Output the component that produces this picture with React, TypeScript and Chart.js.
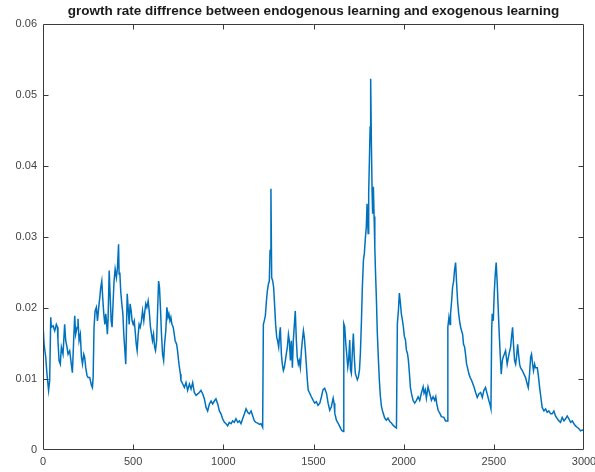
import React, { useEffect, useRef } from "react";
import { Chart, registerables } from "chart.js";

Chart.register(...registerables);

const chartTitle = "growth rate diffrence between endogenous learning and exogenous learning";
const xTickValues = [0, 500, 1000, 1500, 2000, 2500, 3000];
const yTickValues = [0, 0.01, 0.02, 0.03, 0.04, 0.05, 0.06];

// [step, growth-rate difference]
const segmentEarly: [number, number][] = [
  [0, 0.0177], [6, 0.0149], [15, 0.0131], [22, 0.0107], [31, 0.0084], [37, 0.0098], [43, 0.0187], [46, 0.0173],
  [56, 0.0175], [65, 0.0168], [74, 0.0177], [80, 0.0173], [83, 0.0154], [89, 0.0126], [96, 0.0121], [102, 0.0145],
  [111, 0.0135], [120, 0.0177], [126, 0.0154], [133, 0.0145], [139, 0.0135], [148, 0.014], [157, 0.0121], [163, 0.0109],
  [170, 0.0154], [176, 0.0189], [181, 0.0163], [189, 0.0173], [194, 0.0185], [200, 0.0154], [207, 0.0163], [213, 0.0131],
  [219, 0.0121], [226, 0.0135], [231, 0.0131], [237, 0.0116], [244, 0.0105], [250, 0.0102], [259, 0.0102], [269, 0.0091],
  [274, 0.0088], [278, 0.0102], [283, 0.0173], [289, 0.0196], [296, 0.0201], [302, 0.0182], [309, 0.0201], [315, 0.0215],
  [320, 0.0229], [326, 0.0238], [331, 0.0215], [337, 0.0192], [343, 0.0177], [348, 0.0192], [352, 0.0182], [357, 0.0163],
  [361, 0.0185], [367, 0.0253], [372, 0.022], [378, 0.0182], [383, 0.0173], [389, 0.021], [394, 0.0238], [400, 0.0255],
  [407, 0.0243], [413, 0.0257], [419, 0.029], [422, 0.0248], [426, 0.025], [431, 0.0224], [437, 0.0206], [443, 0.0192],
  [448, 0.0163], [454, 0.014], [459, 0.0121], [463, 0.0173], [467, 0.022], [472, 0.0201], [478, 0.0177], [483, 0.0206],
  [489, 0.0196], [494, 0.0182], [500, 0.0177], [506, 0.0182], [511, 0.0168], [517, 0.0149], [522, 0.014], [528, 0.0163],
  [533, 0.0177], [539, 0.0173], [546, 0.0182], [552, 0.0196], [559, 0.0182], [565, 0.0196], [570, 0.0206], [576, 0.0201],
  [583, 0.021], [589, 0.0196], [596, 0.0173], [602, 0.0163], [607, 0.0154], [613, 0.0163], [619, 0.0145], [624, 0.014],
  [630, 0.0154], [635, 0.0192], [641, 0.0238], [646, 0.0229], [652, 0.0196], [657, 0.0163], [663, 0.0135], [669, 0.0126],
  [674, 0.0149], [681, 0.0168], [687, 0.0201], [693, 0.0187], [698, 0.0192], [704, 0.0182], [709, 0.0187], [715, 0.0177],
  [722, 0.0173], [728, 0.0163], [733, 0.0154], [741, 0.0149], [746, 0.014], [754, 0.0121],
];

const segmentMiddle: [number, number][] = [
  [762, 0.0107], [765, 0.0098], [775, 0.0093], [784, 0.0088], [793, 0.0095], [802, 0.0084], [812, 0.0093], [821, 0.0086],
  [830, 0.0095], [839, 0.0081], [849, 0.0077], [858, 0.0079], [867, 0.0081], [876, 0.0084], [886, 0.0079], [895, 0.0072],
  [904, 0.006], [913, 0.0055], [923, 0.0065], [932, 0.0069], [941, 0.0065], [950, 0.0069], [959, 0.0072], [969, 0.0065],
  [978, 0.0055], [987, 0.0051], [996, 0.0044], [1006, 0.0039], [1015, 0.0037], [1024, 0.0034], [1033, 0.0039], [1043, 0.0037],
  [1052, 0.0041], [1061, 0.0039], [1070, 0.0044], [1080, 0.0039], [1089, 0.0041], [1098, 0.0037], [1107, 0.0044], [1117, 0.0051],
  [1126, 0.0058], [1135, 0.0053], [1144, 0.0051], [1154, 0.0055], [1163, 0.0048], [1172, 0.0041], [1181, 0.0039], [1190, 0.0038],
  [1200, 0.0036], [1209, 0.0037], [1218, 0.0032], [1222, 0.0177], [1227, 0.0182], [1233, 0.0189], [1239, 0.021], [1244, 0.0224],
  [1250, 0.0234], [1255, 0.0238], [1259, 0.0281], [1264, 0.0368], [1268, 0.0243], [1274, 0.0238], [1279, 0.0229], [1285, 0.0201],
  [1290, 0.0177], [1296, 0.0159], [1301, 0.0154], [1307, 0.0145], [1312, 0.0163], [1316, 0.0173], [1322, 0.0135], [1327, 0.0121],
  [1333, 0.0112], [1338, 0.0116], [1344, 0.0126], [1349, 0.0135], [1355, 0.0145], [1361, 0.0163], [1366, 0.0154], [1372, 0.0126],
  [1377, 0.0154], [1383, 0.0116], [1388, 0.0154], [1394, 0.0177], [1399, 0.0196], [1405, 0.0154], [1410, 0.0131], [1416, 0.0121],
  [1421, 0.0126], [1427, 0.0116], [1433, 0.014], [1438, 0.0154], [1444, 0.0168], [1449, 0.0159], [1455, 0.014], [1460, 0.0121],
  [1466, 0.0098], [1471, 0.0084],
];

const segmentPeak: [number, number][] = [
  [1479, 0.008], [1488, 0.0075], [1498, 0.007], [1507, 0.0066], [1516, 0.0068], [1525, 0.0063], [1535, 0.0066], [1544, 0.0075],
  [1553, 0.0085], [1562, 0.0087], [1572, 0.008], [1581, 0.0066], [1590, 0.0056], [1599, 0.0061], [1609, 0.0073], [1614, 0.0066],
  [1618, 0.0052], [1627, 0.0042], [1636, 0.0038], [1646, 0.0033], [1655, 0.0028], [1664, 0.0026], [1668, 0.0178], [1673, 0.0174],
  [1679, 0.015], [1684, 0.0136], [1690, 0.0117], [1695, 0.0127], [1701, 0.0155], [1705, 0.0113], [1710, 0.0108], [1716, 0.0141],
  [1721, 0.0164], [1727, 0.0127], [1732, 0.0108], [1738, 0.0103], [1743, 0.0099], [1749, 0.0103], [1755, 0.0113], [1760, 0.0136],
  [1766, 0.0183], [1771, 0.023], [1777, 0.0268], [1782, 0.0277], [1788, 0.03], [1793, 0.0315], [1797, 0.0347], [1803, 0.0305],
  [1806, 0.0362], [1810, 0.0408], [1814, 0.0455], [1817, 0.0523], [1821, 0.0432], [1825, 0.0362], [1828, 0.0333], [1832, 0.0371],
  [1836, 0.0329], [1840, 0.0286], [1843, 0.0258], [1849, 0.0211], [1854, 0.0164], [1860, 0.0127], [1865, 0.0099], [1871, 0.0075],
  [1877, 0.0061], [1886, 0.0052], [1895, 0.0045], [1904, 0.0042], [1913, 0.0045], [1923, 0.004], [1932, 0.0038], [1941, 0.0035],
  [1950, 0.0033], [1960, 0.0031], [1965, 0.0178], [1971, 0.0197], [1976, 0.0221], [1982, 0.0207], [1987, 0.0192], [1993, 0.0183],
  [1998, 0.0174], [2004, 0.016], [2010, 0.0155], [2015, 0.0141], [2021, 0.0136], [2026, 0.0127], [2032, 0.0108], [2037, 0.0089],
  [2043, 0.008], [2052, 0.007], [2061, 0.0066], [2071, 0.007], [2080, 0.0075], [2089, 0.007], [2098, 0.008], [2108, 0.0089],
  [2113, 0.008], [2120, 0.0085], [2126, 0.0073], [2135, 0.0089], [2144, 0.008], [2154, 0.007], [2163, 0.0075], [2172, 0.007],
  [2178, 0.0075], [2183, 0.0066], [2191, 0.0056], [2200, 0.0052], [2209, 0.0047],
];

const segmentLate: [number, number][] = [
  [2223, 0.0046], [2232, 0.0041], [2242, 0.0041], [2245, 0.0173], [2251, 0.0187], [2257, 0.0177], [2260, 0.0192], [2266, 0.021],
  [2271, 0.0229], [2277, 0.0238], [2282, 0.0253], [2288, 0.0264], [2293, 0.0238], [2299, 0.021], [2305, 0.0192], [2310, 0.0182],
  [2316, 0.0173], [2321, 0.0168], [2327, 0.0163], [2332, 0.0149], [2338, 0.0145], [2343, 0.0135], [2349, 0.0121], [2354, 0.0116],
  [2362, 0.0107], [2369, 0.0102], [2377, 0.0098], [2384, 0.0093], [2391, 0.0088], [2399, 0.0081], [2408, 0.0074], [2417, 0.0079],
  [2427, 0.0081], [2436, 0.0074], [2445, 0.0084], [2454, 0.0088], [2463, 0.0079], [2473, 0.0069], [2478, 0.0065], [2484, 0.0058],
  [2488, 0.0168], [2491, 0.0192], [2497, 0.0182], [2502, 0.022], [2508, 0.0248], [2513, 0.0264], [2519, 0.0234], [2524, 0.0201],
  [2530, 0.0163], [2536, 0.0131], [2541, 0.0107], [2547, 0.0126], [2552, 0.0131], [2558, 0.0135], [2565, 0.014], [2574, 0.0121],
  [2584, 0.0135], [2593, 0.0145], [2598, 0.0159], [2604, 0.0173], [2609, 0.0149], [2615, 0.0126], [2621, 0.0121], [2626, 0.0131],
  [2632, 0.0149], [2637, 0.0135], [2643, 0.0121], [2648, 0.0116], [2658, 0.0112], [2667, 0.0107], [2676, 0.0102], [2685, 0.0093],
  [2691, 0.0088], [2698, 0.0107], [2704, 0.0131], [2709, 0.0135], [2715, 0.0121], [2720, 0.0112], [2726, 0.0121], [2731, 0.0116],
  [2741, 0.0116], [2746, 0.0107], [2754, 0.0088], [2761, 0.0074], [2768, 0.006], [2778, 0.0055], [2787, 0.0058], [2796, 0.0053],
  [2805, 0.0055], [2815, 0.0051], [2824, 0.0051], [2833, 0.0055], [2842, 0.0048], [2852, 0.0044], [2861, 0.0041], [2870, 0.0039],
  [2879, 0.0046], [2889, 0.0041], [2898, 0.0044], [2907, 0.0048], [2916, 0.0044], [2926, 0.0039], [2935, 0.0041], [2944, 0.0037],
  [2953, 0.0034], [2962, 0.0032], [2972, 0.003], [2981, 0.0027], [2990, 0.0028], [3000, 0.0027],
];

const FONT = "'Liberation Sans', Arial, Helvetica, sans-serif";

const boxTicks = {
  id: "boxTicks",
  afterDatasetsDraw(chart: any) {
    const { ctx, chartArea: a, scales } = chart;
    const L = Math.round(a.left) + 0.5;
    const R = Math.round(a.right) - 0.5;
    const T = Math.round(a.top) + 0.5;
    const B = Math.round(a.bottom) - 0.5;
    const len = 5;
    ctx.save();
    ctx.strokeStyle = "#3a3a3a";
    ctx.lineWidth = 1;
    ctx.beginPath();
    ctx.rect(L, T, R - L, B - T);
    xTickValues.forEach((v) => {
      const px = Math.round(scales.x.getPixelForValue(v)) + 0.5;
      if (px <= L + 1 || px >= R - 1) return;
      ctx.moveTo(px, B);
      ctx.lineTo(px, B - len);
      ctx.moveTo(px, T);
      ctx.lineTo(px, T + len);
    });
    yTickValues.forEach((v) => {
      const py = Math.round(scales.y.getPixelForValue(v)) + 0.5;
      if (py <= T + 1 || py >= B - 1) return;
      ctx.moveTo(L, py);
      ctx.lineTo(L + len, py);
      ctx.moveTo(R, py);
      ctx.lineTo(R - len, py);
    });
    ctx.stroke();
    ctx.restore();
  },
};

export default function App() {
  const ref = useRef<HTMLCanvasElement>(null);

  useEffect(() => {
    const series = [...segmentEarly, ...segmentMiddle, ...segmentPeak, ...segmentLate].map(([x, y]) => ({ x, y }));
    const chart = new Chart(ref.current as HTMLCanvasElement, {
      type: "line",
      data: {
        datasets: [
          {
            label: "growth rate difference",
            data: series,
            borderColor: "#0072BD",
            borderWidth: 1.5,
            pointRadius: 0,
            tension: 0,
            fill: false,
          },
        ],
      },
      options: {
        animation: false,
        responsive: false,
        maintainAspectRatio: false,
        layout: { padding: { left: 0, right: 11, top: 0, bottom: 0 } },
        plugins: {
          legend: { display: false },
          tooltip: { enabled: false },
          title: {
            display: true,
            text: chartTitle,
            fullSize: false,
            color: "#1a1a1a",
            font: { family: FONT, size: 13.5, weight: "bold" },
            padding: { top: 3, bottom: 5 },
          },
        },
        scales: {
          x: {
            type: "linear",
            min: 0,
            max: 3000,
            grid: { display: false, drawTicks: false },
            border: { display: false },
            afterBuildTicks: (s: any) => {
              s.ticks = xTickValues.map((value) => ({ value }));
            },
            afterFit: (s: any) => {
              s.height = 22;
              s.paddingLeft = 0;
              s.paddingRight = 0;
            },
            ticks: {
              padding: 5,
              color: "#444",
              font: { family: FONT, size: 11 },
              maxRotation: 0,
              autoSkip: false,
              callback: (v: any) => String(v),
            },
          },
          y: {
            type: "linear",
            min: 0,
            max: 0.06,
            grid: { display: false, drawTicks: false },
            border: { display: false },
            afterBuildTicks: (s: any) => {
              s.ticks = yTickValues.map((value) => ({ value }));
            },
            afterFit: (s: any) => {
              s.width = 43;
              s.paddingTop = 0;
              s.paddingBottom = 0;
            },
            ticks: {
              padding: 6,
              color: "#444",
              font: { family: FONT, size: 11 },
              autoSkip: false,
              callback: (v: any) => (v === 0 ? "0" : Number(v).toFixed(2)),
            },
          },
        },
      },
      plugins: [boxTicks],
    });
    return () => chart.destroy();
  }, []);

  return (
    <div style={{ position: "absolute", left: 0, top: 0, width: 595, height: 472, background: "#fff" }}>
      <canvas ref={ref} width={595} height={472} style={{ display: "block" }} />
    </div>
  );
}
